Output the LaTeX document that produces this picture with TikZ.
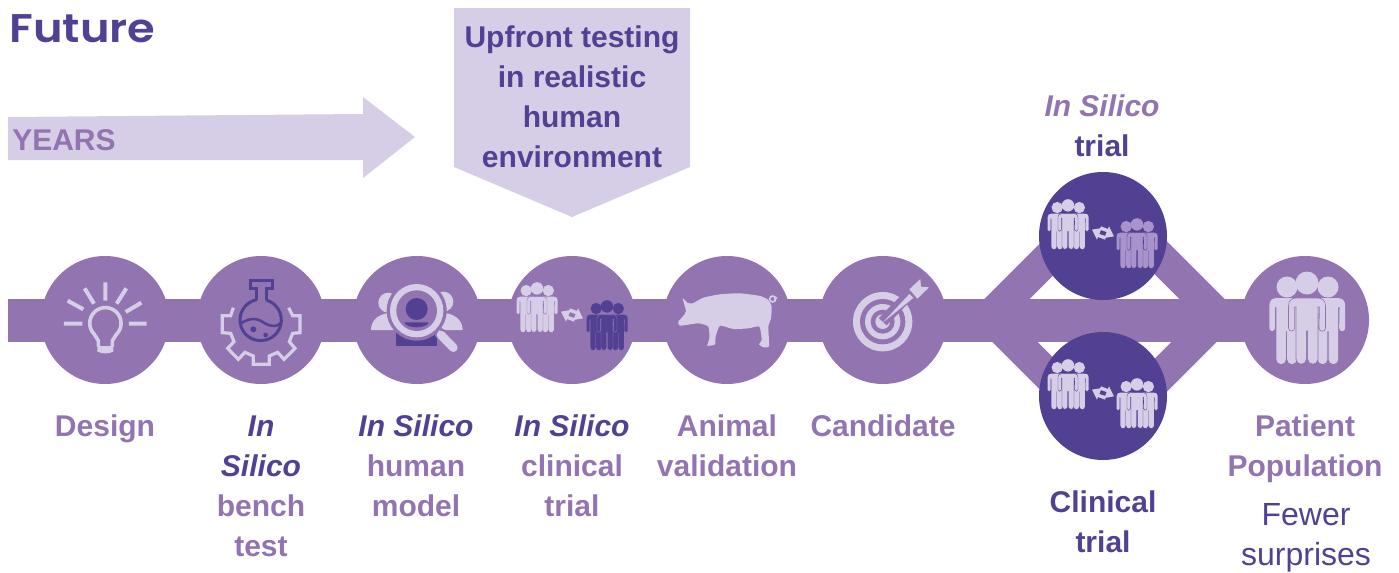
\documentclass[tikz,border=0pt]{standalone}
\usepackage{fontspec}
\setmainfont{Liberation Sans}
\newfontfamily\titlefont[FakeStretch=1.12]{Poppins SemiBold}
\usetikzlibrary{backgrounds}
\definecolor{band}{HTML}{9274B1}
\definecolor{deep}{HTML}{524193}
\definecolor{pale}{HTML}{D6CEE6}
\definecolor{mid}{HTML}{A893CC}
\newcommand\lineStrut{\rule{0pt}{16.5pt}}
\tikzset{
  hub/.style={circle,minimum size=96pt,inner sep=0pt,fill=band},
  deephub/.style={hub,fill=deep},
  bandline/.style={draw=band,line width=32.25pt,line join=miter},
  branch/.style={draw=band,line width=24pt,line join=miter},
  lbl/.style={anchor=north,inner sep=0pt,align=center,text=band,font=\bfseries\fontsize{22.5}{30}\selectfont},
  note/.style={anchor=north,inner sep=0pt,align=center,text=deep,font=\fontsize{24}{30}\selectfont},
}
\newcommand\dk[1]{\textcolor{deep}{#1}}
\newcommand\onePerson[1]{%
  \fill[#1] (-18.5,33) .. controls (-18.5,27) and (-15,25) .. (-10,25) -- (10,25)
    .. controls (15,25) and (18.5,27) .. (18.5,33) -- (18.5,55) arc (0:180:3.25)
    -- (12.4,34) -- (11,34) -- (11,86) arc (0:180:5.2) -- (.6,58) -- (-.6,58)
    -- (-.6,86) arc (0:180:5.2) -- (-11,34) -- (-12.4,34) -- (-12.4,55) arc (0:180:3.05) -- cycle;}
\newcommand\crowd[5]{%
  \begin{scope}[shift={(#1,#2)},scale=#3]
    \begin{scope}[shift={(-20.5,0)},xscale=.93]\onePerson{#4}\end{scope}
    \begin{scope}[shift={(21,0)},xscale=.93]\onePerson{#4}\end{scope}
    \fill[#4] (-20,14) circle (10.5) (21,14) circle (10.5);
    \pgfmathsetmacro\crowdline{.45*#3}
    \onePerson{#4,draw=#5,line width=\crowdline pt}
    \fill[#4] (0,10) circle (11.5);
  \end{scope}}
\newcommand\swapArrows[2]{%
  \begin{scope}[shift={(#1,#2)},scale=1/3]
    \fill[pale] (-6,-20) -- (15,-12) -- (18,-20) -- (33,10) -- (4,15) -- (11,-3) -- (-10,-10) -- cycle;
    \begin{scope}[rotate=180]
      \fill[pale] (-6,-20) -- (15,-12) -- (18,-20) -- (33,10) -- (4,15) -- (11,-3) -- (-10,-10) -- cycle;
    \end{scope}
  \end{scope}}
\begin{document}
\begin{tikzpicture}[x=.75pt,y=-.75pt]
\useasboundingbox (0,0) rectangle (1399,572);
% hubs
\node[hub] (design) at (105,320) {};
\node[hub] (bench) at (261,320) {};
\node[hub] (human) at (417,320) {};
\node[hub] (silico) at (572,320) {};
\node[hub] (animal) at (727,320) {};
\node[hub] (candidate) at (883,320) {};
\node[hub] (patient) at (1305,320) {};
\node[deephub] (toptrial) at (1103,236) {};
\node[deephub] (bottrial) at (1103,396) {};
\coordinate (start) at (8,320);
\coordinate (ta) at (986,320);
\coordinate (tb) at (1070,236);
\coordinate (tc) at (1139,236);
\coordinate (td) at (1223,320);
\coordinate (ba) at (993,320);
\coordinate (bb) at (1069,396);
\coordinate (bc) at (1140,396);
\coordinate (bd) at (1216,320);
\begin{pgfonlayer}{background}
  \draw[branch] (ta) -- (tb) -- (toptrial.center) -- (tc) -- (td);
  \draw[branch] (ba) -- (bb) -- (bottrial.center) -- (bc) -- (bd);
  \draw[bandline] (start) -- (design.center) -- (bench.center) -- (human.center) -- (silico.center) -- (animal.center) -- (candidate.center) -- (patient.center);
\end{pgfonlayer}
% years arrow and callout
\fill[pale] (8,117) -- (363,114) -- (363,97) -- (415,137) -- (363,178) -- (363,160) -- (8,160) -- cycle;
\fill[pale] (454,8) -- (690,8) -- (690,167) -- (572,217) -- (454,167) -- cycle;
% title
\node[anchor=base west,inner sep=0pt,text=deep,font=\titlefont\fontsize{30}{36}\selectfont] (title) at (9,42) {Future};
\node[anchor=base west,inner sep=0pt,text=band,font=\bfseries\fontsize{22.5}{30}\selectfont] (years) at (12,150) {YEARS};
\node[lbl,text=deep] (upfront) at (572,25) {\lineStrut Upfront testing\\in realistic\\human\\environment};
% labels
\node[lbl] (l1) at (105,414) {\lineStrut Design};
\node[lbl] (l2) at (261,414) {\lineStrut\dk{\itshape In}\\\dk{\itshape Silico}\\bench\\test};
\node[lbl] (l3) at (416,414) {\lineStrut\dk{\itshape In Silico}\\human\\model};
\node[lbl] (l4) at (572,414) {\lineStrut\dk{\itshape In Silico}\\clinical\\trial};
\node[lbl] (l5) at (727,414) {\lineStrut Animal\\validation};
\node[lbl] (l6) at (883,414) {\lineStrut Candidate};
\node[lbl] (l7) at (1102,94) {\lineStrut{\itshape In Silico}\\\dk{trial}};
\node[lbl,text=deep] (l8) at (1103,490) {\lineStrut Clinical\\trial};
\node[lbl] (l9) at (1305,414) {\lineStrut Patient\\Population};
\node[note] (l10) at (1306,503) {\lineStrut Fewer\\surprises};
% bulb
\begin{scope}[shift={(0,240)},scale=1/3]
  \draw[pale,line width=2.7pt] (295,320) -- (295,302) -- (283,283) arc (135:405:47) -- (337,302) -- (337,320);
  \fill[pale] (292,318) -- (340,318) -- (340,335) .. controls (325,342) and (307,342) .. (292,335) -- cycle;
  \draw[pale,line width=3pt] (192,251) -- (247,251) (387,251) -- (440,251) (316,127) -- (316,182)
    (254,145) -- (282,191) (379,145) -- (350,191) (203,182) -- (250,208) (424,188) -- (377,216);
\end{scope}
% flask and gear
\begin{scope}[shift={(210,270)},scale=1/3]
  \draw[pale,line width=2.4pt,line join=miter] (70,113) -- (62,137) -- (37,137) -- (37,188) -- (62,190) -- (72,215) -- (53,235) -- (85,268) -- (105,247) -- (130,258) -- (130,283) -- (178,283) -- (178,258) -- (203,247) -- (222,268) -- (255,235) -- (238,215) -- (248,190) -- (270,188) -- (270,137) -- (248,137) -- (236,113);
  \draw[deep,line width=2.25pt] (140,89) -- (140,55) -- (120,55) -- (120,30) -- (187,30) -- (187,55) -- (168,55) -- (168,90);
  \draw[deep,line width=2.25pt] (168,90) arc (-75:259:62);
  \draw[deep,line width=1.9pt] (90,163) .. controls (125,135) and (150,150) .. (165,160) .. controls (185,172) and (205,170) .. (214,157);
  \fill[deep] (130,178) circle (9) (167,195) circle (7);
\end{scope}
% magnifier
\begin{scope}[shift={(365,280)},scale=1/3]
  \fill[pale] (70,68) circle (30) (235,65) circle (30);
  \fill[pale] (18,150) .. controls (18,118) and (45,98) .. (85,98) -- (100,150) -- cycle;
  \fill[pale] (293,150) .. controls (293,118) and (265,98) .. (225,98) -- (210,150) -- cycle;
  \fill[deep] (93,140) -- (215,140) -- (215,197) -- (93,197) -- cycle;
  \draw[band,line width=8.5pt,line cap=round] (225,160) -- (265,203);
  \draw[pale,line width=6.5pt,line cap=round] (228,165) -- (265,203);
  \draw[pale,line width=1.6pt] (205,135) -- (232,165);
  \fill[band] (155,92) circle (90);
  \fill[pale] (155,92) circle (80);
  \fill[band] (155,92) circle (61);
  \fill[deep] (155,87) circle (33);
  \fill[deep] (119,127) -- (191,127) .. controls (187,147) and (123,147) .. cycle;
\end{scope}
% trial crowds
\crowd{537}{283}{.54}{pale}{band}
\crowd{607}{301}{.54}{deep}{band}
\swapArrows{572}{315}
% pig
\begin{scope}[shift={(670,285)},scale=1/3]
  \fill[pale] plot[smooth cycle,tension=.35] coordinates {(38,40) (52,53) (68,55) (100,38) (150,28) (210,25) (270,33) (295,45) (305,65) (303,100) (295,125) (297,183) (280,187) (267,178) (275,165) (268,125) (235,130) (190,132) (150,122) (137,155) (135,178) (112,182) (118,160) (115,125) (85,115) (30,122) (25,110) (38,95) (48,78)};
  \draw[pale,line width=1.2pt] (308,42) circle (9);
  \fill[pale] (312,34) -- (323,38) -- (312,48) -- cycle;
\end{scope}
% target
\begin{scope}[shift={(840,270)},scale=1/3]
  \fill[pale] (128,155) circle (89);
  \fill[band] (128,155) circle (68);
  \fill[pale] (128,155) circle (53);
  \fill[band] (128,155) circle (36);
  \fill[pale] (128,155) circle (22);
  \draw[band,line width=8pt] (128,155) -- (210,72);
  \fill[pale] (128,158) -- (208,72) -- (220,84) -- cycle;
  \fill[pale] (208,58) -- (241,27) -- (243,50) -- (267,52) -- (232,86) -- cycle;
\end{scope}
% trial arm crowds
\crowd{1068}{200}{.54}{pale}{deep}
\crowd{1137}{219}{.54}{mid}{deep}
\swapArrows{1103}{233}
\crowd{1068}{360}{.54}{pale}{deep}
\crowd{1137}{379}{.54}{pale}{deep}
\swapArrows{1103}{393}
\crowd{1307}{273}{1}{pale}{band}
\end{tikzpicture}
\end{document}
